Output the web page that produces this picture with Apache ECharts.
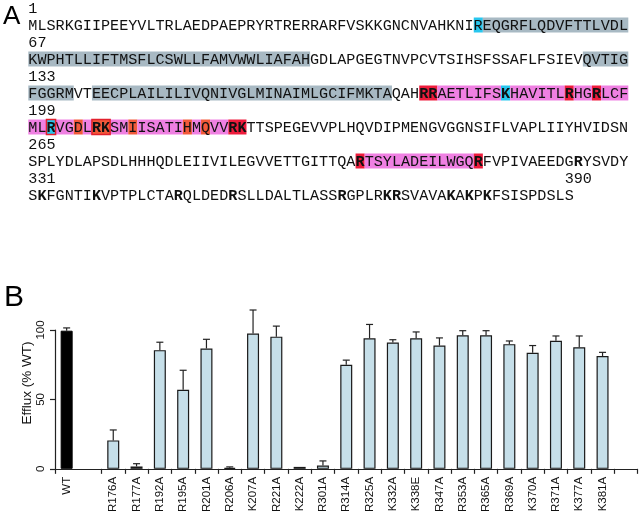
<!DOCTYPE html>
<html>
<head>
<meta charset="utf-8">
<script src="https://cdn.jsdelivr.net/npm/echarts@6/dist/echarts.min.js"></script>
<style>html,body{margin:0;padding:0;background:#fff;}#c{width:640px;height:515px;}</style>
</head>
<body>
<div id="c"></div>
<script>
// ---------- Panel B data ----------
const categories = ['WT', '', 'R176A', 'R177A', 'R192A', 'R195A', 'R201A', 'R206A', 'K207A', 'R221A', 'K222A', 'R301A',
  'R314A', 'R325A', 'K332A', 'K338E', 'R347A', 'R353A', 'R365A', 'R369A', 'K370A', 'R371A', 'K377A', 'K381A', ''];
const efflux = [99.5, null, 20.5, 1.7, 85.5, 57, 86.7, 0.8, 97.4, 95.2, 1.4, 2.4,
  75, 94, 91, 94, 88.8, 96.2, 96.2, 89.8, 83.6, 92.2, 87.6, 81.3, null];
const effluxErr = [2, null, 7.5, 2, 5.7, 14, 6.6, 0.6, 17, 7.6, 0, 3.3,
  3.3, 10, 2, 4.6, 5.5, 3.3, 3.3, 2.3, 5.2, 3.5, 8.1, 2.6, null];
const yTicks = [0, 50, 100];
const yAxisTitle = 'Efflux (% WT)';

// ---------- Panel A data ----------
const seqStarts = ['1', '67', '133', '199', '265', '331'];
const seqEndLabel = '390';
const seqLines = [
  'MLSRKGIIPEEYVLTRLAEDPAEPRYRTRERRARFVSKKGNCNVAHKNIREQGRFLQDVFTTLVDL',
  'KWPHTLLIFTMSFLCSWLLFAMVWWLIAFAHGDLAPGEGTNVPCVTSIHSFSSAFLFSIEVQVTIG',
  'FGGRMVTEECPLAILILIVQNIVGLMINAIMLGCIFMKTAQAHRRAETLIFSKHAVITLRHGRLCF',
  'MLRVGDLRKSMIISATIHMQVVRKTTSPEGEVVPLHQVDIPMENGVGGNSIFLVAPLIIYHVIDSN',
  'SPLYDLAPSDLHHHQDLEIIVILEGVVETTGITTQARTSYLADEILWGQRFVPIVAEEDGRYSVDY',
  'SKFGNTIKVPTPLCTARQLDEDRSLLDALTLASSRGPLRKRSVAVAKAKPKFSISPDSLS'
];
const boldPositions = [
  [],
  [],
  [43, 44, 52, 59, 62],
  [2, 7, 8, 22, 23],
  [36, 49, 60],
  [1, 7, 16, 22, 34, 39, 40, 46, 48, 50]
];
// [start, end, kind]
const highlightRanges = [
  [[49, 49, 'cyan'], [50, 65, 'gray']],
  [[0, 30, 'gray'], [61, 65, 'gray']],
  [[0, 4, 'gray'], [7, 39, 'gray'], [43, 44, 'red'], [45, 51, 'pink'], [52, 52, 'cyan'], [53, 58, 'pink'],
   [59, 59, 'red'], [60, 61, 'pink'], [62, 62, 'red'], [63, 65, 'pink']],
  [[0, 1, 'pink'], [2, 2, 'cyan'], [3, 4, 'pink'], [5, 5, 'orange'], [6, 6, 'pink'], [7, 8, 'orange'],
   [9, 10, 'pink'], [11, 11, 'orange'], [12, 16, 'pink'], [17, 17, 'orange'], [18, 18, 'pink'],
   [19, 19, 'orange'], [20, 21, 'pink'], [22, 23, 'red']],
  [[36, 36, 'red'], [37, 48, 'pink'], [49, 49, 'red']],
  []
];
const outlinedRanges = [[], [], [], [[2, 2], [7, 8]], [], []];

// ---------- styles ----------
const hlColors = { gray: '#a8b9c3', cyan: '#27c6ee', pink: '#ef80e2', red: '#ee1c3c', orange: '#f25a3a' };
const MONO = '"Liberation Mono", "Courier New", monospace';
const SANS = '"Liberation Sans", Arial, sans-serif';
const CW = 9.091, X0 = 28.3, FS = 15.15;
const rowY = i => 8 + 17 * i;

const graphics = [];
// highlights
seqLines.forEach((line, li) => {
  const cy = rowY(2 * li + 1);
  highlightRanges[li].forEach(([s, e, k]) => {
    graphics.push({ type: 'rect', z: 1, shape: { x: X0 + s * CW, y: cy - 7.5, width: (e - s + 1) * CW, height: 15 },
      style: { fill: hlColors[k] } });
  });
});
// text runs
seqLines.forEach((line, li) => {
  const cy = rowY(2 * li + 1);
  const bset = new Set(boldPositions[li]);
  let start = 0;
  for (let i = 1; i <= line.length; i++) {
    if (i === line.length || bset.has(i) !== bset.has(start)) {
      const bold = bset.has(start);
      graphics.push({ type: 'text', z: 3, x: X0 + start * CW, y: cy + 1,
        style: { text: line.slice(start, i), font: (bold ? 'bold ' : '') + FS + 'px ' + MONO, fill: '#111',
          align: 'left', verticalAlign: 'middle', textAlign: 'left', textVerticalAlign: 'middle' } });
      start = i;
    }
  }
  graphics.push({ type: 'text', z: 3, x: X0, y: rowY(2 * li) + 1,
    style: { text: seqStarts[li], font: FS + 'px ' + MONO, fill: '#111', align: 'left', verticalAlign: 'middle',
      textAlign: 'left', textVerticalAlign: 'middle' } });
});
// outlines
outlinedRanges.forEach((arr, li) => {
  const cy = rowY(2 * li + 1);
  arr.forEach(([s, e]) => {
    graphics.push({ type: 'rect', z: 4, shape: { x: X0 + s * CW, y: cy - 7.5, width: (e - s + 1) * CW, height: 15 },
      style: { fill: null, stroke: '#e2202c', lineWidth: 1.5 } });
  });
});
graphics.push({ type: 'text', z: 3, x: X0 + 59 * CW, y: rowY(10) + 1,
  style: { text: seqEndLabel, font: FS + 'px ' + MONO, fill: '#111', align: 'left', verticalAlign: 'middle',
    textAlign: 'left', textVerticalAlign: 'middle' } });
// panel letters
graphics.push({ type: 'text', z: 3, x: 3, y: 17,
  style: { text: 'A', font: '26px ' + SANS, fill: '#000', align: 'left', verticalAlign: 'middle', textAlign: 'left', textVerticalAlign: 'middle' } });
graphics.push({ type: 'text', z: 3, x: 4, y: 297.5,
  style: { text: 'B', font: '30px ' + SANS, fill: '#000', align: 'left', verticalAlign: 'middle', textAlign: 'left', textVerticalAlign: 'middle' } });
// y axis title
graphics.push({ type: 'text', z: 3, x: 27.5, y: 383, rotation: Math.PI / 2,
  style: { text: yAxisTitle, font: '13.5px ' + SANS, fill: '#111', align: 'center', verticalAlign: 'middle',
    textAlign: 'center', textVerticalAlign: 'middle' } });

const barData = efflux.map((v, i) => v == null ? null : {
  value: v,
  itemStyle: i === 0 ? { color: '#000', borderColor: '#000', borderWidth: 1 } :
    { color: '#c6dfe9', borderColor: '#1a1a1a', borderWidth: 1.2 }
});
const errData = [];
efflux.forEach((v, i) => { if (v != null && effluxErr[i] > 0) errData.push([i, v, effluxErr[i]]); });

const chart = echarts.init(document.getElementById('c'), null, { renderer: 'canvas' });
chart.setOption({
  animation: false,
  backgroundColor: '#fff',
  graphic: graphics,
  grid: { left: 55, right: 2.5, top: 330, bottom: 45, containLabel: false },
  xAxis: {
    type: 'category', data: categories, boundaryGap: true,
    axisLine: { lineStyle: { color: '#222', width: 1.2 } },
    axisTick: { show: true, length: 5, lineStyle: { color: '#222', width: 1.2 }, interval: (idx) => idx !== 1 },
    axisLabel: { interval: 0, rotate: 90, fontSize: 11.5, fontFamily: SANS, color: '#111', margin: 8 }
  },
  yAxis: {
    type: 'value', min: 0, max: 100, interval: 50,
    axisLine: { show: true, lineStyle: { color: '#222', width: 1.2 } },
    axisTick: { show: true, length: 5, lineStyle: { color: '#222', width: 1.2 } },
    axisLabel: { rotate: 90, fontSize: 11.5, fontFamily: SANS, color: '#111', margin: 8 },
    splitLine: { show: false }
  },
  series: [
    { type: 'bar', data: barData, barWidth: 12, z: 2 },
    {
      type: 'custom', data: errData, clip: false, z: 3,
      renderItem: (params, api) => {
        const x = api.value(0), v = api.value(1), e = api.value(2);
        const p0 = api.coord([x, v]);
        const p1 = api.coord([x, v + e]);
        const st = { stroke: '#222', lineWidth: 1.2 };
        return { type: 'group', children: [
          { type: 'line', shape: { x1: p0[0], y1: p0[1], x2: p1[0], y2: p1[1] }, style: st },
          { type: 'line', shape: { x1: p1[0] - 3.5, y1: p1[1], x2: p1[0] + 3.5, y2: p1[1] }, style: st }
        ] };
      }
    }
  ]
});
</script>
</body>
</html>
